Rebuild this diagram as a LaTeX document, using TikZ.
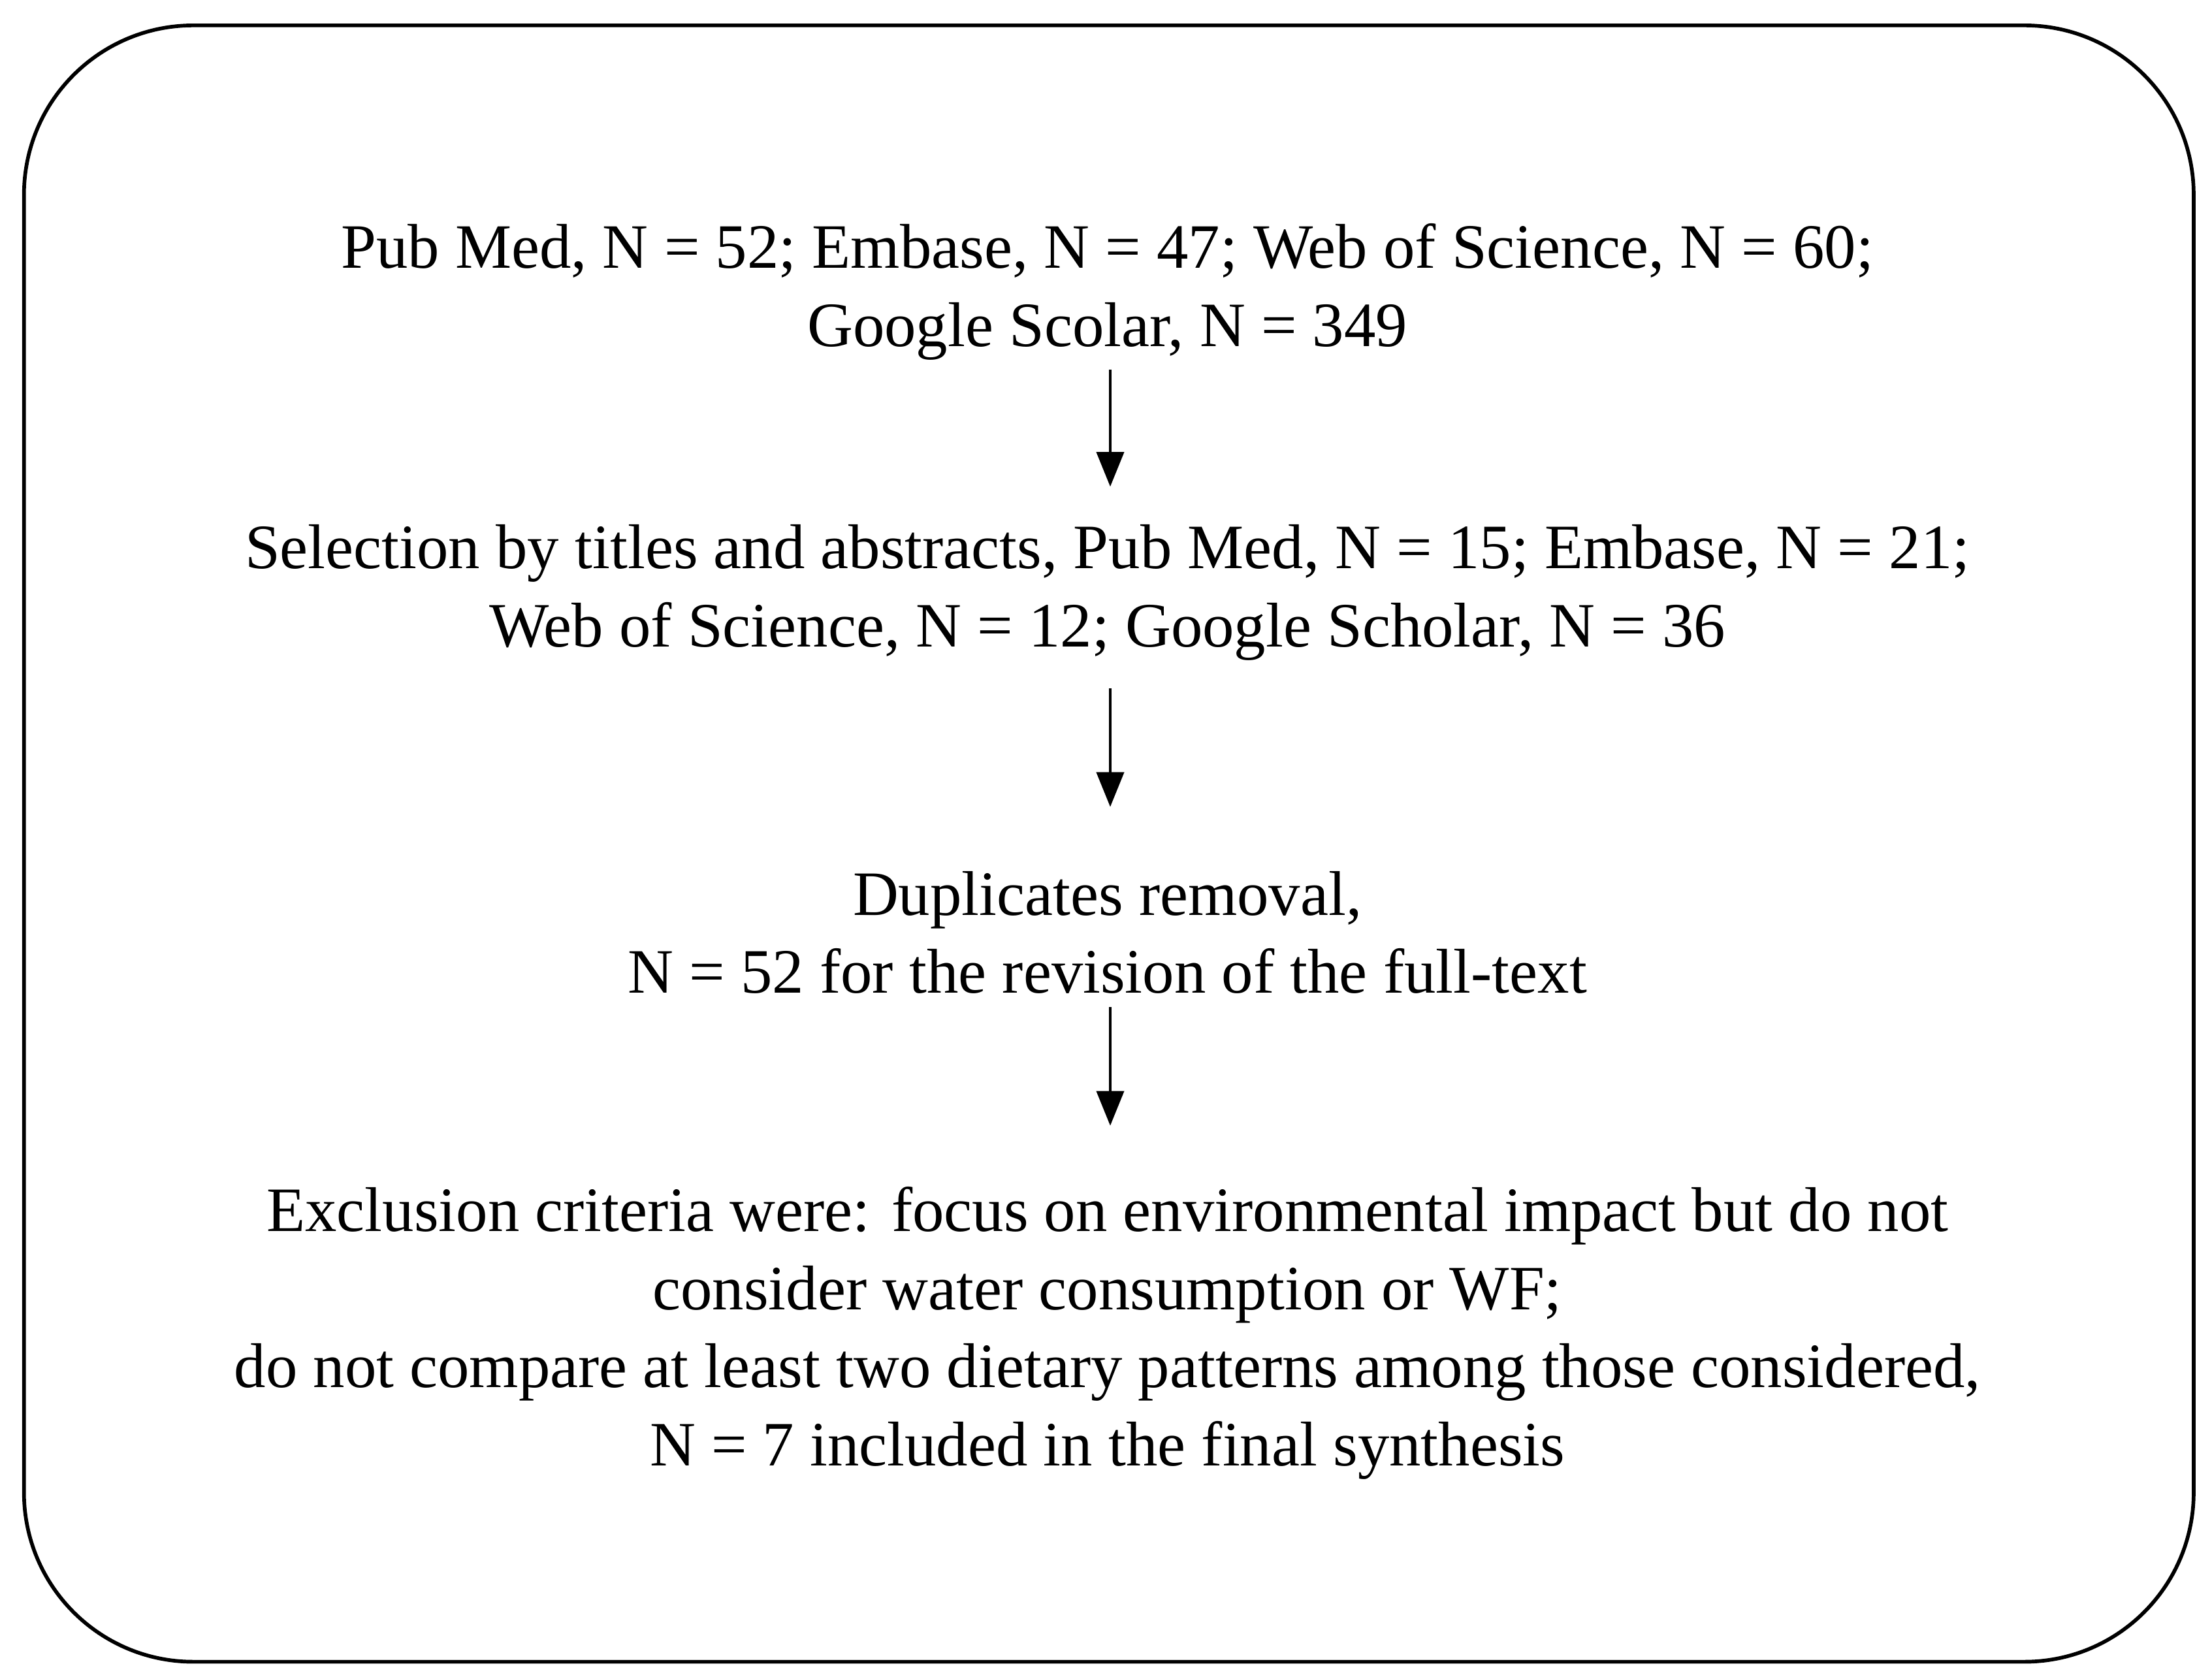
\documentclass[tikz,border=0pt]{standalone}
\usepackage{fontspec}
\setmainfont{Liberation Serif}
\usetikzlibrary{arrows.meta}
\begin{document}
\begin{tikzpicture}[x=0.02cm,y=-0.02cm,
  txt/.style={align=center,font=\fontsize{25.5}{31.5}\selectfont,inner sep=0pt},
  arr/.style={-{Triangle[length=14pt,width=11pt]},line width=1.3pt}]
\useasboundingbox (0,0) rectangle (1568,1190);
\draw[line width=1.5pt,rounded corners=120*0.02cm] (17,18) rectangle (1555,1178);
\node[txt] (a) at (785,207) {Pub Med, N = 52; Embase, N = 47; Web of Science, N = 60;\\Google Scolar, N = 349};
\node[txt] (b) at (785,420) {Selection by titles and abstracts, Pub Med, N = 15; Embase, N = 21;\\Web of Science, N = 12; Google Scholar, N = 36};
\node[txt] (c) at (785,661) {Duplicates removal,\\N = 52 for the revision of the full-text};
\node[txt] (d) at (785,945) {Exclusion criteria were: focus on environmental impact but do not\\consider water consumption or WF;\\do not compare at least two dietary patterns among those considered,\\N = 7 included in the final synthesis};
\coordinate (a1) at (787,262); \coordinate (b0) at (787,345);
\coordinate (b1) at (787,488); \coordinate (c0) at (787,572);
\coordinate (c1) at (787,714); \coordinate (d0) at (787,798);
\draw[arr] (a1) -- (b0);
\draw[arr] (b1) -- (c0);
\draw[arr] (c1) -- (d0);
\end{tikzpicture}
\end{document}
